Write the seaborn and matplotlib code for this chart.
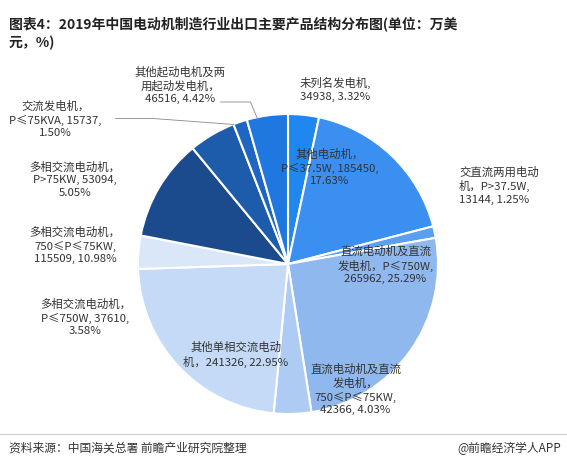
import matplotlib
matplotlib.use("Agg")
import matplotlib.pyplot as plt
import seaborn as sns

sns.set_theme(style="white")
plt.rcParams['font.family'] = ['Noto Sans CJK SC', 'DejaVu Sans']

names = ["未列名发电机", "其他电动机", "交直流两用电动机", "直流电动机及直流发电机P≤750W",
         "直流电动机及直流发电机750≤P≤75KW", "其他单相交流电动机", "多相交流电动机P≤750W",
         "多相交流电动机750≤P≤75KW", "多相交流电动机P>75KW", "交流发电机P≤75KVA",
         "其他起动电机及两用起动发电机"]
values = [34938, 185450, 13144, 265962, 42366, 241326, 37610, 115509, 53094, 15737, 46516]
pcts = ["3.32%", "17.63%", "1.25%", "25.29%", "4.03%", "22.95%", "3.58%", "10.98%", "5.05%", "1.50%", "4.42%"]
colors = ["#1f87ee", "#3a8ff0", "#5aa0ee", "#8fb8ef", "#aecbf3", "#c4daf6", "#d9e7f9",
          "#1b4b8c", "#1d5cab", "#1e66c2", "#1f78e0"]

fig = plt.figure(figsize=(5.67, 4.6), dpi=100)
ax = fig.add_axes([(288 - 150) / 567, (460 - 265 - 150) / 460, 300 / 567, 300 / 460])
ax.pie(values, colors=colors, startangle=90, counterclock=False,
       wedgeprops=dict(edgecolor="white", linewidth=1.5))
ax.set_xlim(-1, 1); ax.set_ylim(-1, 1); ax.set_aspect("equal"); ax.axis("off")

v, p = values, pcts
texts = [
    (f"未列名发电机,\n{v[0]}, {p[0]}", 0.08, 1.17, "left"),
    (f"其他电动机，\nP≤37.5W, {v[1]},\n{p[1]}", 0.28, 0.65, "center"),
    (f"交直流两用电动\n机，P>37.5W,\n{v[2]}, {p[2]}", 1.14, 0.53, "left"),
    (f"直流电动机及直流\n发电机，P≤750W,\n{v[3]}, {p[3]}", 0.65, 0.0, "center"),
    (f"直流电动机及直流\n发电机，\n750≤P≤75KW,\n{v[4]}, {p[4]}", 0.45, -0.83, "center"),
    (f"其他单相交流电动\n机，{v[5]}, {p[5]}", -0.35, -0.6, "center"),
    (f"多相交流电动机，\nP≤750W, {v[6]},\n{p[6]}", -1.35, -0.35, "center"),
    (f"多相交流电动机，\n750≤P≤75KW,\n{v[7]}, {p[7]}", -1.42, 0.13, "center"),
    (f"多相交流电动机，\nP>75KW, {v[8]},\n{p[8]}", -1.42, 0.57, "center"),
    (f"交流发电机，\nP≤75KVA, {v[9]},\n{p[9]}", -1.55, 0.97, "center"),
    (f"其他起动电机及两\n用起动发电机，\n{v[10]}, {p[10]}", -0.72, 1.2, "center"),
]
for t, x, y, ha in texts:
    ax.text(x, y, t, ha=ha, va="center", fontsize=8.2, color="#333333", linespacing=1.3, clip_on=False)
ax.plot([-1.15, -0.9, -0.36], [0.97, 0.97, 0.93], color="#888888", lw=0.6, clip_on=False)
ax.plot([-0.45, -0.25, -0.2], [1.08, 1.08, 0.96], color="#888888", lw=0.6, clip_on=False)

fig.text(0.015, 0.965, "图表4：2019年中国电动机制造行业出口主要产品结构分布图(单位：万美\n元，%)",
         fontsize=10, fontweight="bold", va="top", ha="left", color="#222222", linespacing=1.4)
fig.add_artist(plt.Line2D([0.0, 1.0], [0.055, 0.055], color="#cccccc", lw=0.8))
fig.text(0.015, 0.025, "资料来源：中国海关总署 前瞻产业研究院整理", fontsize=8.5, va="center", color="#333333")
fig.text(0.99, 0.025, "@前瞻经济学人APP", fontsize=8.5, va="center", ha="right", color="#333333")
fig.savefig("out.png", dpi=100)
